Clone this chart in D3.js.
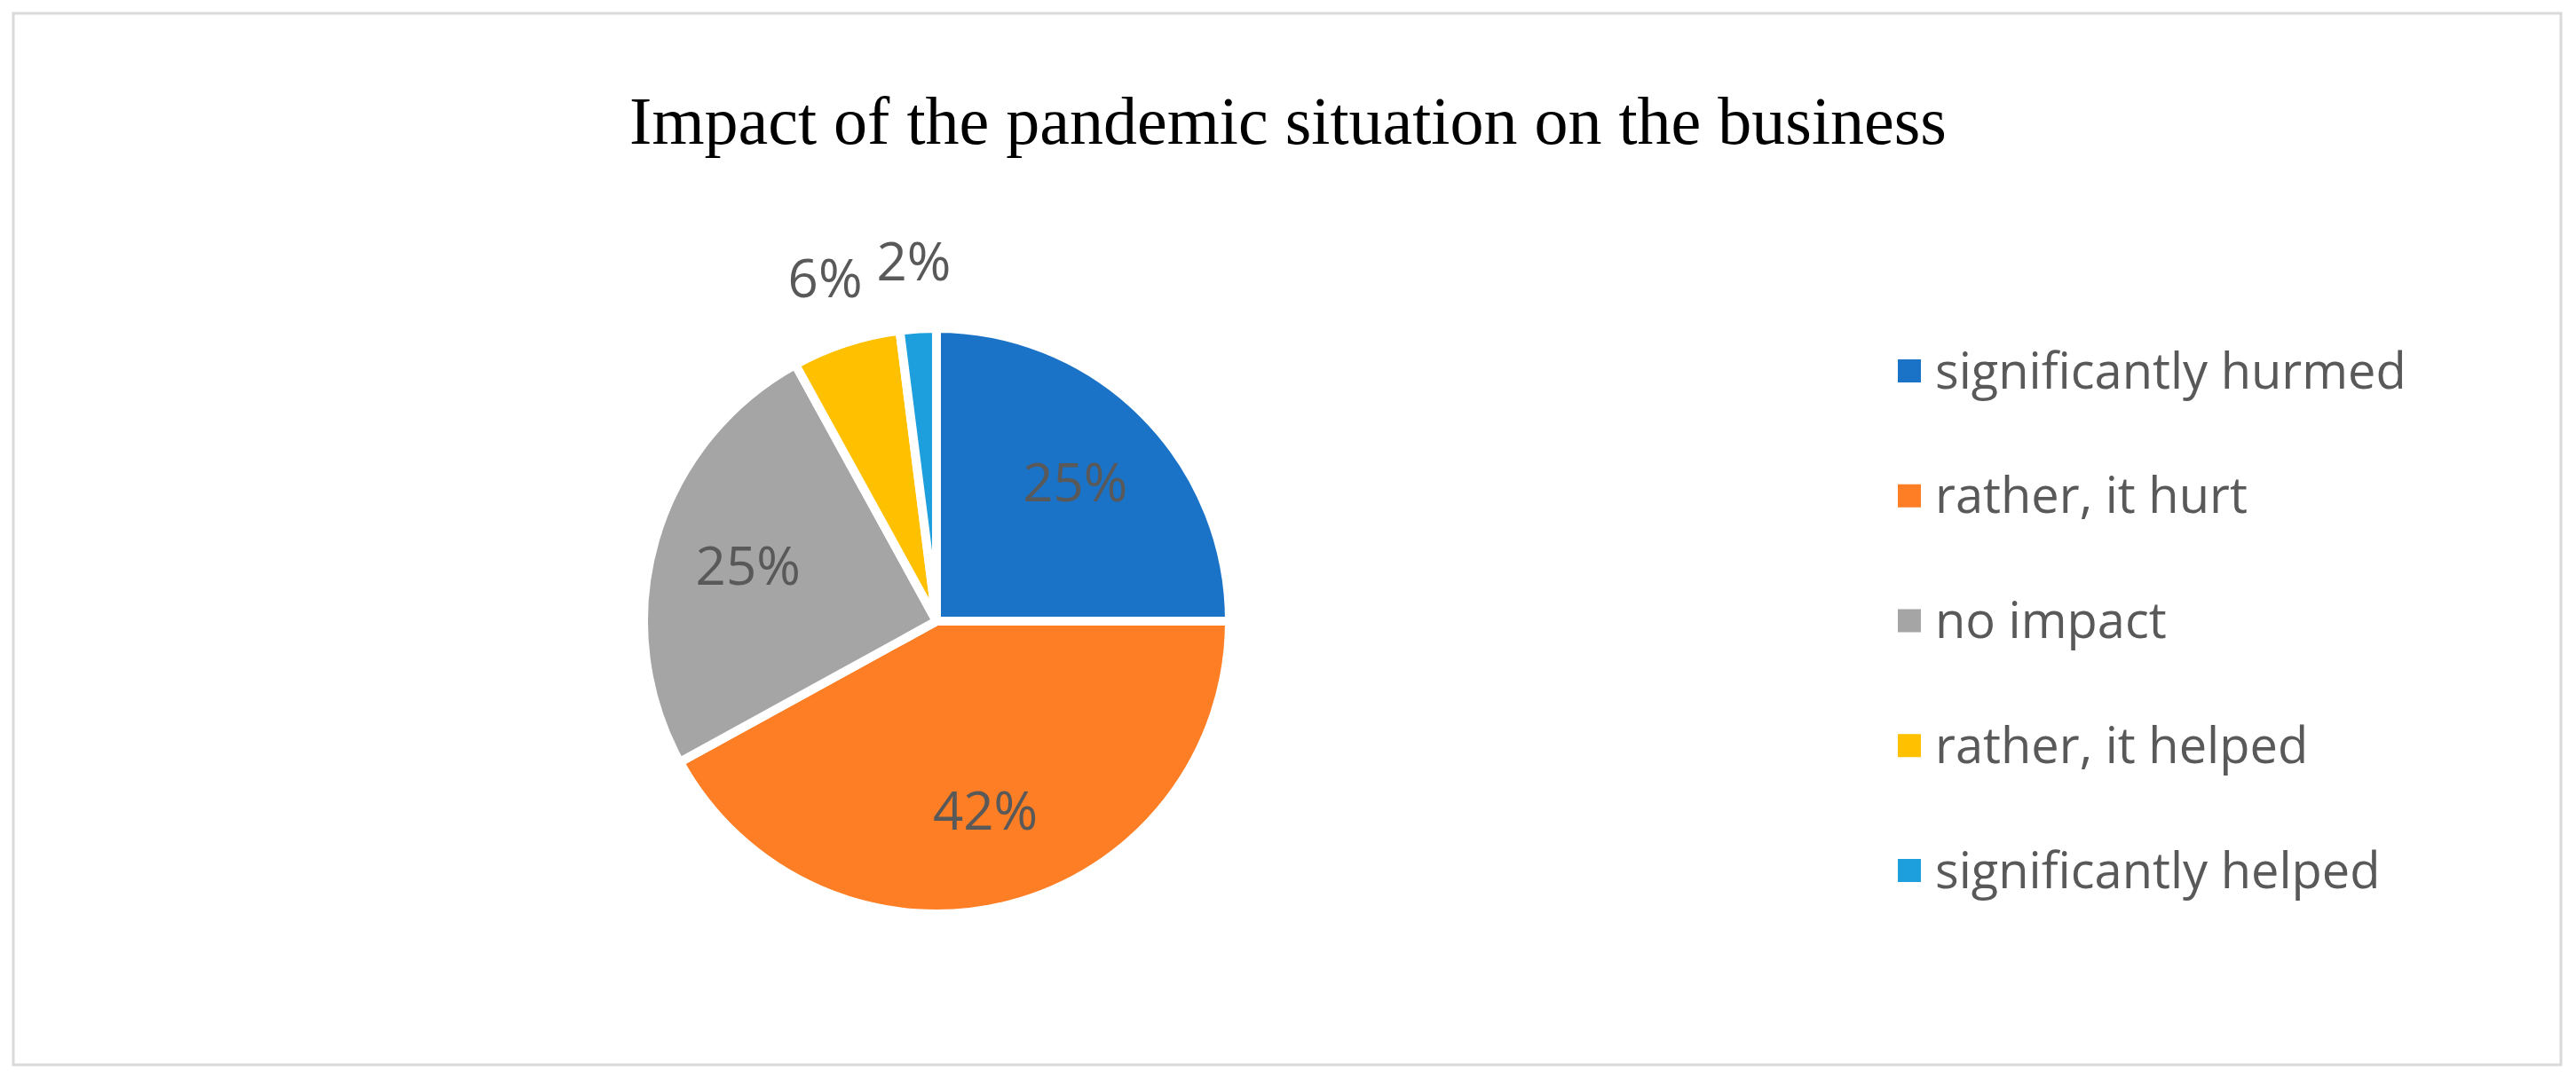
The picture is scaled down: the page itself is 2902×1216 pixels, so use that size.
<!DOCTYPE html>
<html><head><meta charset="utf-8">
<script src="https://cdn.jsdelivr.net/npm/d3@7"></script>
<style>body{margin:0;background:#fff}</style></head>
<body><svg id="c" width="2902" height="1216"></svg>
<script>
const categories = ["significantly hurmed","rather, it hurt","no impact","rather, it helped","significantly helped"];
const values = [25,42,25,6,2];
const labels = ["25%","42%","25%","6%","2%"];
const colors = ["#1B73C8","#FD7E24","#A5A5A5","#FFC000","#1E9FDD"];
const outside = [false,false,false,true,true];

const svg = d3.select("#c");
svg.append("rect").attr("x",15).attr("y",15).attr("width",2870).attr("height",1185)
  .attr("fill","#fff").attr("stroke","#D9D9D9").attr("stroke-width",3);
svg.append("text").attr("x",1451).attr("y",162).attr("text-anchor","middle")
  .attr("font-family","'Liberation Serif','DejaVu Serif',serif").attr("font-size",76)
  .attr("fill","#000").text("Impact of the pandemic situation on the business");

const cx=1055, cy=700, r=330;
const pie = d3.pie().sort(null).value(d=>d)(values);
const arc = d3.arc().innerRadius(0).outerRadius(r);
const g = svg.append("g").attr("transform",`translate(${cx},${cy})`);
g.selectAll("path").data(pie).join("path").attr("d",arc)
  .attr("fill",(d,i)=>colors[i]).attr("stroke","#fff").attr("stroke-width",10).attr("stroke-linejoin","miter");
g.selectAll("text").data(pie).join("text")
  .attr("transform",(d,i)=>{const a=(d.startAngle+d.endAngle)/2, k=outside[i]?1.23:0.67;
    return `translate(${Math.sin(a)*r*k},${-Math.cos(a)*r*k})`;})
  .attr("text-anchor","middle").attr("dy","0.35em")
  .attr("font-family","'Open Sans','Liberation Sans',sans-serif").attr("font-size",60)
  .attr("fill","#595959").text((d,i)=>labels[i]);

const leg = svg.append("g");
const ly = d3.scalePoint().domain(categories).range([418,981]);
categories.forEach((c,i)=>{
  leg.append("rect").attr("x",2138).attr("y",ly(c)-13).attr("width",26).attr("height",26).attr("fill",colors[i]);
  leg.append("text").attr("x",2180).attr("y",ly(c)).attr("dy","0.35em")
    .attr("font-family","'Open Sans','Liberation Sans',sans-serif").attr("font-size",56)
    .attr("fill","#595959").text(c);
});
</script></body></html>
